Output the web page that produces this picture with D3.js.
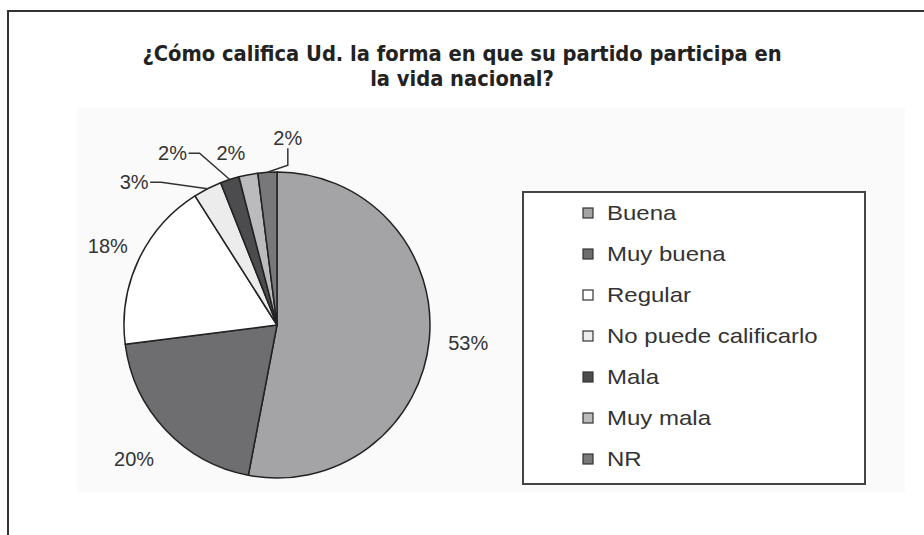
<!DOCTYPE html>
<html>
<head>
<meta charset="utf-8">
<script src="https://cdn.jsdelivr.net/npm/d3@7"></script>
<style>
  body { margin: 0; background: #fff; }
  svg { display: block; }
</style>
</head>
<body>
<svg id="chart"></svg>
<script>
const width = 924;
const height = 535;

// data
const categories = ['Buena', 'Muy buena', 'Regular', 'No puede calificarlo', 'Mala', 'Muy mala', 'NR'];
const values = [53, 20, 18, 3, 2, 2, 2];
const pctLabels = ['53%', '20%', '18%', '3%', '2%', '2%', '2%'];
const titleLines = ['¿Cómo califica Ud. la forma en que su partido participa en', 'la vida nacional?'];

// styling
const colors = ['#a4a4a6', '#6e6e71', '#ffffff', '#ececec', '#4c4c4e', '#bbbbbd', '#78787b'];
const cx = 277, cy = 325, radius = 153;
// label distance from centre, and angle override (deg) for the thin slices
const labelR = [192, 196, 187, 202, 201, 178, 188];
const labelDeg = [null, null, null, 315, 328.7, 345, 3.3];
const leaders = [false, false, false, true, true, false, true];

const svg = d3.select('#chart')
    .attr('width', width)
    .attr('height', height);

// faint plot area
svg.append('rect')
    .attr('x', 77).attr('y', 108)
    .attr('width', 828).attr('height', 384)
    .attr('fill', '#fafafa');

// frame (top + left only)
svg.append('path')
    .attr('d', `M8,535 L8,11 L924,11`)
    .attr('fill', 'none')
    .attr('stroke', '#333')
    .attr('stroke-width', 2);

// title
svg.append('g')
    .selectAll('text')
    .data(titleLines)
    .enter()
    .append('text')
    .attr('x', 462)
    .attr('y', (d, i) => 61 + i * 25)
    .attr('text-anchor', 'middle')
    .style('font-family', '"DejaVu Sans Condensed", "DejaVu Sans", sans-serif')
    .style('font-stretch', 'condensed')
    .style('font-weight', 'bold')
    .style('font-size', '21.7px')
    .attr('fill', '#222')
    .text(d => d);

const pie = d3.pie().sort(null).value(d => d);
const arcs = pie(values);
const arc = d3.arc().innerRadius(0).outerRadius(radius);

const g = svg.append('g').attr('transform', `translate(${cx},${cy})`);

g.selectAll('.slice')
    .data(arcs)
    .enter()
    .append('path')
    .attr('class', 'slice')
    .attr('d', arc)
    .attr('fill', (d, i) => colors[i])
    .attr('stroke', '#222')
    .attr('stroke-width', 1.5)
    .attr('stroke-linejoin', 'round');

const midAngle = d => (d.startAngle + d.endAngle) / 2;
const labelPos = (d, i) => {
    let a = labelDeg[i] === null ? midAngle(d) : labelDeg[i] * Math.PI / 180;
    return [labelR[i] * Math.sin(a), -labelR[i] * Math.cos(a)];
};

// leader lines for thin slices
g.selectAll('.leader')
    .data(arcs.filter((d, i) => leaders[i]))
    .enter()
    .append('path')
    .attr('class', 'leader')
    .attr('d', d => {
        let i = d.index;
        let [lx, ly] = labelPos(d, i);
        let a = midAngle(d);
        let ex = radius * Math.sin(a), ey = -radius * Math.cos(a);
        if (i === 6) {
            // label above, line drops down
            return `M${lx},${ly + 11} L${lx},${ly + 28} L${ex},${ey}`;
        }
        return `M${lx + 16},${ly} L${lx + 27},${ly} L${ex},${ey}`;
    })
    .attr('fill', 'none')
    .attr('stroke', '#333')
    .attr('stroke-width', 1.5);

g.selectAll('.pct')
    .data(arcs)
    .enter()
    .append('text')
    .attr('class', 'pct')
    .attr('transform', (d, i) => `translate(${labelPos(d, i)})`)
    .attr('text-anchor', 'middle')
    .attr('dy', '0.36em')
    .style('font-family', '"Liberation Sans", Arial, sans-serif')
    .style('font-size', '20px')
    .attr('fill', '#333')
    .text((d, i) => pctLabels[i]);

// legend
const legend = svg.append('g');
legend.append('rect')
    .attr('x', 523).attr('y', 192)
    .attr('width', 342).attr('height', 292)
    .attr('fill', '#fff')
    .attr('stroke', '#444')
    .attr('stroke-width', 2);

const rowY = d3.scaleBand()
    .domain(categories)
    .range([192.5, 479.5]);

const item = legend.selectAll('.item')
    .data(categories)
    .enter()
    .append('g')
    .attr('class', 'item')
    .attr('transform', d => `translate(0,${rowY(d) + rowY.bandwidth() / 2})`);

item.append('rect')
    .attr('x', 583).attr('y', -5)
    .attr('width', 10).attr('height', 10)
    .attr('fill', (d, i) => colors[i])
    .attr('stroke', '#333')
    .attr('stroke-width', 1.2);

// legend text in the source is drawn a bit wider than plain Arial
item.append('text')
    .attr('transform', 'translate(607,0) scale(1.2,1)')
    .attr('dy', '0.36em')
    .style('font-family', '"Liberation Sans", Arial, sans-serif')
    .style('font-size', '20px')
    .attr('fill', '#333')
    .text(d => d);
</script>
</body>
</html>
